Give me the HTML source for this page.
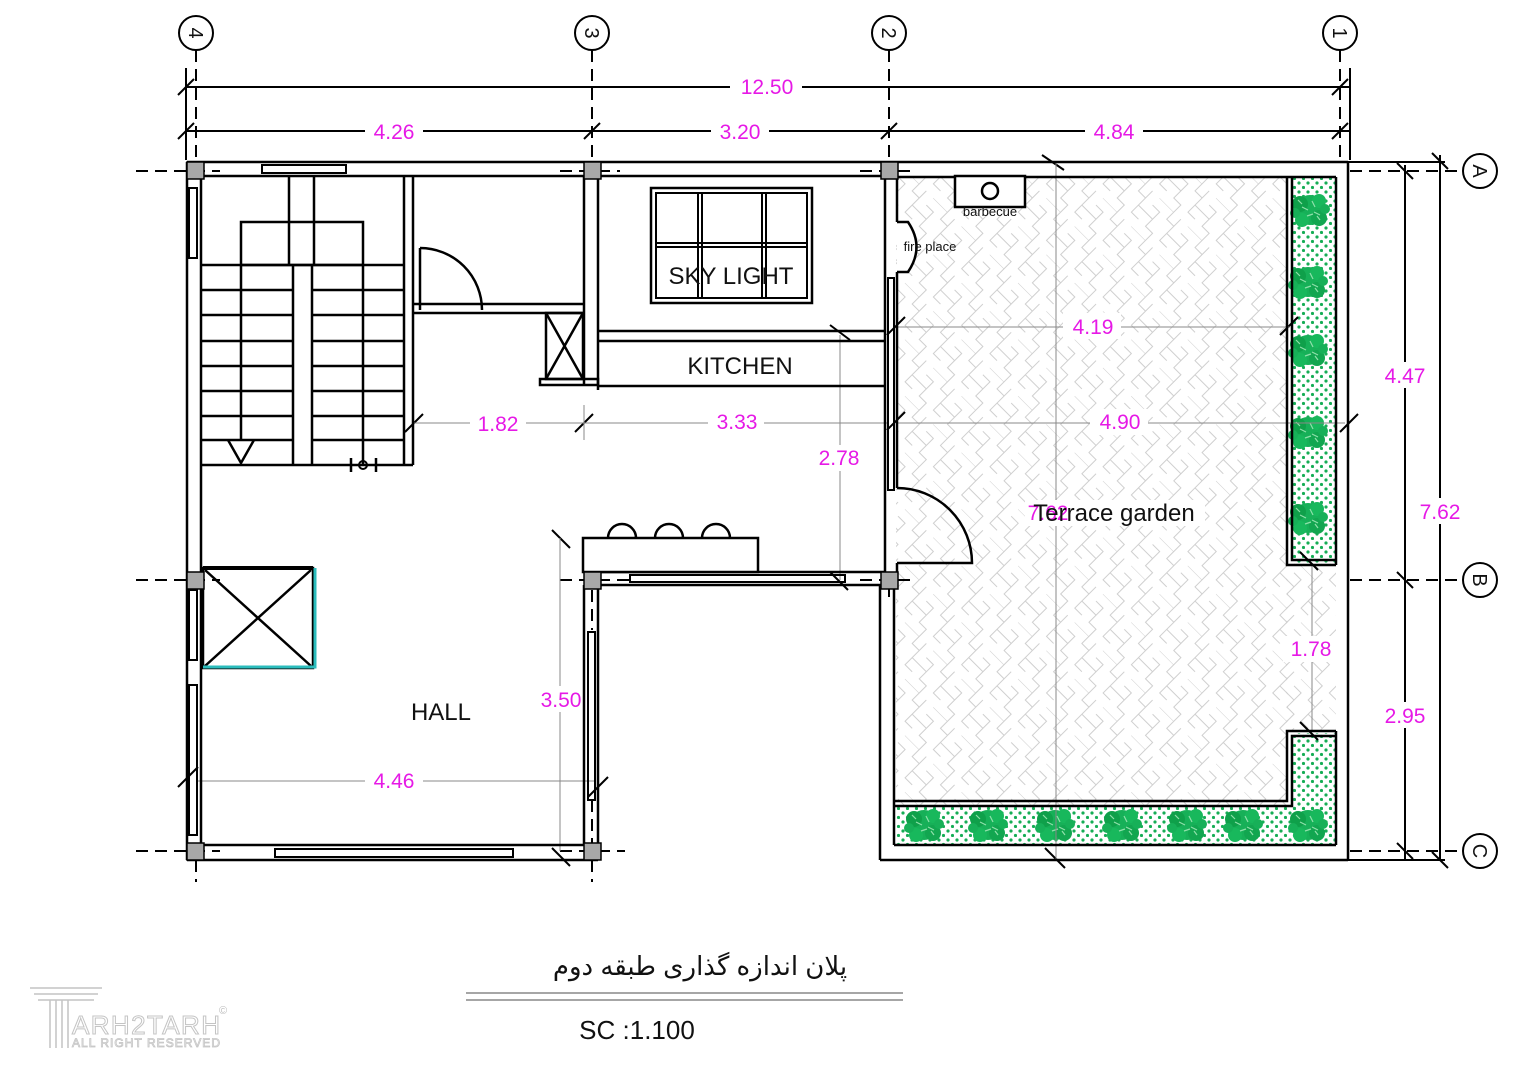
<!DOCTYPE html>
<html><head><meta charset="utf-8"><style>
html,body{margin:0;padding:0;background:#fff}
svg{display:block}
.m{fill:#e619e6;font-family:"Liberation Sans",sans-serif;font-size:21px;text-anchor:middle}
.t{fill:#111;font-family:"Liberation Sans",sans-serif;text-anchor:middle}
</style></head><body>
<svg width="1527" height="1080" viewBox="0 0 1527 1080" xmlns="http://www.w3.org/2000/svg">
<defs>
<pattern id="hb" width="40" height="40" patternUnits="userSpaceOnUse" patternTransform="rotate(45)">
<path d="M0 0H20V10H30V20H40M0 20H10V30H20V40M20 0V10M30 20V30H40M10 20V10H0M30 0V10" stroke="#cfcfcf" stroke-width="1" fill="none"/>
</pattern>
<pattern id="dots" width="9" height="9" patternUnits="userSpaceOnUse">
<circle cx="3" cy="3" r="1.6" fill="#16ad55"/><circle cx="7.5" cy="7.5" r="1.6" fill="#16ad55"/>
</pattern>
<g id="bush">
<circle r="15" fill="#17b058"/><circle cx="-10" cy="-6" r="8" fill="#0fa04a"/><circle cx="9" cy="8" r="8" fill="#12a650"/><circle cx="9" cy="-9" r="7" fill="#18b85c"/><circle cx="-8" cy="10" r="7" fill="#18b85c"/><circle cx="-15" cy="3" r="5" fill="#17b058"/><circle cx="15" cy="-1" r="5" fill="#17b058"/>
<path d="M-8 -3l6 3M2 -9l3 6M-3 6l6-2M4 2l6 3M-12 -10l4 4M10 10l-3-4" stroke="#8fe0aa" stroke-width="1.2"/>
</g>
</defs>
<rect width="1527" height="1080" fill="#fff"/>

<rect x="896" y="177" width="392" height="630" fill="url(#hb)"/>
<rect x="1286" y="566" width="50" height="165" fill="url(#hb)"/>
<rect x="1292" y="177" width="43" height="388" fill="url(#dots)"/>
<rect x="1292" y="733" width="43" height="112" fill="url(#dots)"/>
<rect x="896" y="806" width="440" height="39" fill="url(#dots)"/>
<g>
<use href="#bush" x="1310" y="210"/><use href="#bush" x="1308" y="282"/><use href="#bush" x="1308" y="350"/><use href="#bush" x="1308" y="432"/><use href="#bush" x="1308" y="518"/>
<use href="#bush" x="924" y="825"/><use href="#bush" x="988" y="825"/><use href="#bush" x="1055" y="825"/><use href="#bush" x="1122" y="825"/><use href="#bush" x="1187" y="825"/><use href="#bush" x="1243" y="825"/><use href="#bush" x="1308" y="825"/>
</g>

<g stroke="#000" stroke-width="2" stroke-dasharray="12,7" fill="none">
<line x1="196" y1="50" x2="196" y2="162"/><line x1="196" y1="860" x2="196" y2="882"/>
<line x1="592" y1="50" x2="592" y2="162"/><line x1="592" y1="860" x2="592" y2="882"/>
<line x1="592" y1="538" x2="592" y2="572"/><line x1="592" y1="590" x2="592" y2="630"/><line x1="592" y1="800" x2="592" y2="843"/>
<line x1="889" y1="50" x2="889" y2="162"/><line x1="889" y1="585" x2="889" y2="600"/>
<line x1="1340" y1="50" x2="1340" y2="162"/>
<line x1="136" y1="171" x2="220" y2="171"/><line x1="560" y1="171" x2="620" y2="171"/><line x1="860" y1="171" x2="910" y2="171"/>
<line x1="1350" y1="171" x2="1462" y2="171"/>
<line x1="136" y1="580" x2="220" y2="580"/><line x1="560" y1="580" x2="630" y2="580"/><line x1="860" y1="580" x2="910" y2="580"/>
<line x1="1350" y1="580" x2="1462" y2="580"/>
<line x1="136" y1="851" x2="220" y2="851"/><line x1="560" y1="851" x2="625" y2="851"/>
<line x1="1350" y1="851" x2="1462" y2="851"/>
</g>
<g fill="#fff" stroke="#000" stroke-width="2">
<ellipse cx="196" cy="33" rx="17" ry="17"/><ellipse cx="592" cy="33" rx="17" ry="17"/><ellipse cx="889" cy="33" rx="17" ry="17"/><ellipse cx="1340" cy="33" rx="17" ry="17"/>
<circle cx="1480" cy="171" r="17"/><circle cx="1480" cy="580" r="17"/><circle cx="1480" cy="851" r="17"/>
</g>
<g class="t" font-size="20">
<text transform="translate(196,33) rotate(90)" y="7">4</text>
<text transform="translate(592,33) rotate(90)" y="7">3</text>
<text transform="translate(889,33) rotate(90)" y="7">2</text>
<text transform="translate(1340,33) rotate(90)" y="7">1</text>
<text transform="translate(1480,171) rotate(90)" y="7">A</text>
<text transform="translate(1480,580) rotate(90)" y="7">B</text>
<text transform="translate(1480,851) rotate(90)" y="7">C</text>
</g>

<g stroke="#000" stroke-width="2" fill="none">
<line x1="186" y1="87" x2="1350" y2="87"/>
<line x1="186" y1="131" x2="1350" y2="131"/>
<line x1="186" y1="68" x2="186" y2="160"/>
<line x1="1350" y1="68" x2="1350" y2="160"/>
<line x1="1405" y1="165" x2="1405" y2="860"/>
<line x1="1440" y1="155" x2="1440" y2="860"/>
<line x1="1348" y1="162" x2="1445" y2="162"/>
<line x1="1348" y1="860" x2="1445" y2="860"/>
<path d="M178 95l16-16M178 139l16-16M584 139l16-16M881 139l16-16M1332 95l16-16M1332 139l16-16"/>
<path d="M1397 163l16 16M1432 153l16 16M1397 572l16 16M1397 843l16 16M1432 852l16 16"/>
<path d="M1042 155l22 15M1045 848l20 20M830 325l20 15M830 572l18 18M552 530l18 18M552 848l18 18M1300 722l18 18M1300 552l18 18"/>
<path d="M178 787l20-20M588 797l20-20M405 432l18-18M575 432l18-18M887 335l18-18M887 430l18-18M1280 335l18-18M1340 432l18-18"/>
</g>
<g stroke="#888" stroke-width="1" fill="none">
<line x1="196" y1="781" x2="596" y2="781"/>
<line x1="560" y1="538" x2="560" y2="851"/>
<line x1="413" y1="423" x2="889" y2="423"/>
<line x1="584" y1="405" x2="584" y2="440"/>
<line x1="897" y1="423" x2="1345" y2="423"/>
<line x1="897" y1="327" x2="1290" y2="327"/>
<line x1="840" y1="335" x2="840" y2="580"/>
<line x1="1056" y1="162" x2="1056" y2="860"/>
<line x1="1312" y1="565" x2="1312" y2="731"/>
</g>
<g class="m">
<rect x="730" y="74" width="72" height="26" fill="#fff"/><text x="767" y="94">12.50</text>
<rect x="365" y="118" width="58" height="26" fill="#fff"/><text x="394" y="139">4.26</text>
<rect x="711" y="118" width="58" height="26" fill="#fff"/><text x="740" y="139">3.20</text>
<rect x="1085" y="118" width="58" height="26" fill="#fff"/><text x="1114" y="139">4.84</text>
<rect x="1377" y="362" width="56" height="26" fill="#fff"/><text x="1405" y="383">4.47</text>
<rect x="1412" y="498" width="56" height="26" fill="#fff"/><text x="1440" y="519">7.62</text>
<rect x="1377" y="702" width="56" height="26" fill="#fff"/><text x="1405" y="723">2.95</text>
<rect x="470" y="410" width="56" height="26" fill="#fff"/><text x="498" y="431">1.82</text>
<rect x="708" y="409" width="56" height="26" fill="#fff"/><text x="737" y="429">3.33</text>
<rect x="810" y="445" width="58" height="26" fill="#fff"/><text x="839" y="465">2.78</text>
<rect x="1063" y="313" width="58" height="26" fill="#fff"/><text x="1093" y="334">4.19</text>
<rect x="1090" y="409" width="58" height="26" fill="#fff"/><text x="1120" y="429">4.90</text>
<rect x="1283" y="636" width="56" height="26" fill="#fff"/><text x="1311" y="656">1.78</text>
<rect x="365" y="768" width="58" height="26" fill="#fff"/><text x="394" y="788">4.46</text>
<rect x="533" y="686" width="58" height="26" fill="#fff"/><text x="561" y="707">3.50</text>
<rect x="1025" y="500" width="180" height="26" fill="#fff"/>
<text x="1048" y="520">7.62</text>
</g>

<g stroke="#000" stroke-width="2.5" fill="none">
<line x1="187" y1="162" x2="1348" y2="162"/>
<line x1="201" y1="176" x2="584" y2="176"/>
<line x1="598" y1="176" x2="885" y2="176"/>
<line x1="897" y1="177" x2="1336" y2="177"/>
<rect x="262" y="165" width="84" height="8" stroke-width="2"/>
<line x1="187" y1="162" x2="187" y2="860"/>
<line x1="201" y1="176" x2="201" y2="845"/>
<rect x="189" y="188" width="8" height="70" stroke-width="2"/>
<rect x="189" y="590" width="8" height="70" stroke-width="2"/>
<rect x="189" y="685" width="8" height="150" stroke-width="2"/>
<line x1="187" y1="860" x2="598" y2="860"/>
<line x1="201" y1="845" x2="584" y2="845"/>
<rect x="275" y="849" width="238" height="8" stroke-width="2"/>
<line x1="584" y1="585" x2="584" y2="845"/>
<line x1="598" y1="585" x2="598" y2="860"/>
<rect x="588" y="632" width="7" height="168" stroke-width="2"/>
<line x1="598" y1="572" x2="885" y2="572"/>
<line x1="598" y1="585" x2="897" y2="585"/>
<rect x="630" y="575" width="215" height="7" stroke-width="2"/>
<line x1="584" y1="176" x2="584" y2="385"/>
<line x1="598" y1="176" x2="598" y2="390"/>
<line x1="885" y1="176" x2="885" y2="572"/>
<line x1="897" y1="177" x2="897" y2="222"/>
<line x1="897" y1="272" x2="897" y2="488"/>
<rect x="888" y="278" width="6" height="212" stroke-width="2"/>
<line x1="897" y1="563" x2="897" y2="585"/>
<line x1="880" y1="585" x2="880" y2="860"/>
<line x1="880" y1="860" x2="1348" y2="860"/>
<line x1="1348" y1="162" x2="1348" y2="860"/>
<line x1="894" y1="585" x2="894" y2="845"/>
<line x1="894" y1="845" x2="1336" y2="845"/>
<line x1="1336" y1="177" x2="1336" y2="565"/>
<line x1="1336" y1="731" x2="1336" y2="845"/>
<path d="M1287 177V565H1336M1292 177V560H1336"/>
<path d="M894 801H1287V731H1336M894 806H1292V736H1336"/>
<line x1="404" y1="176" x2="404" y2="465"/>
<line x1="413" y1="176" x2="413" y2="465"/>
<line x1="201" y1="465" x2="413" y2="465"/>
<line x1="289" y1="176" x2="289" y2="265"/>
<line x1="314" y1="176" x2="314" y2="265"/>
<rect x="241" y="222" width="122" height="43"/>
<line x1="201" y1="265" x2="404" y2="265"/>
<line x1="293" y1="265" x2="293" y2="465"/>
<line x1="312" y1="265" x2="312" y2="465"/>
<line x1="241" y1="265" x2="241" y2="440"/>
<line x1="363" y1="265" x2="363" y2="465"/>
<path d="M201 290H293M312 290H404M201 315H293M312 315H404M201 341H293M312 341H404M201 366H293M312 366H404M201 391H293M312 391H404M201 416H293M312 416H404M201 440H293M312 440H404"/>
<path d="M228 440L241 463L254 440"/>
<path d="M351 458V472M376 458V472"/>
<circle cx="363" cy="465" r="4" stroke-width="2"/>
<line x1="413" y1="304" x2="584" y2="304"/>
<line x1="413" y1="313" x2="584" y2="313"/>
<line x1="420" y1="248" x2="420" y2="310"/>
<path d="M420 248A62 62 0 0 1 482 310"/>
<rect x="546" y="313" width="37" height="66"/>
<path d="M546 313L583 379M583 313L546 379"/>
<path d="M540 379H598V385H540Z"/>
<line x1="598" y1="331" x2="885" y2="331"/>
<line x1="598" y1="341" x2="885" y2="341"/>
<line x1="598" y1="386" x2="885" y2="386"/>
<rect x="651" y="188" width="161" height="115"/>
<rect x="656" y="193" width="151" height="105" stroke-width="2"/>
<path d="M698 193V298M702 193V298M762 193V298M766 193V298M656 243H807M656 247H807" stroke-width="2"/>
<rect x="583" y="538" width="175" height="34" fill="#fff"/>
<path d="M608 538A14 14 0 0 1 636 538M655 538A14 14 0 0 1 683 538M702 538A14 14 0 0 1 730 538"/>
<path d="M897 488A75 75 0 0 1 972 563H897"/>
<path d="M897 222H908Q925 247 908 272H897" fill="#fff"/>
<rect x="955" y="176" width="70" height="31" fill="#fff"/>
<circle cx="990" cy="191" r="8"/>
<rect x="203" y="568" width="110" height="100"/>
<path d="M205 570L311 666M311 570L205 666"/>
</g>
<path d="M203 667H315V568" stroke="#2bbcbc" stroke-width="3" fill="none"/>
<line x1="203" y1="568" x2="313" y2="568" stroke="#000" stroke-width="4"/>

<g fill="#a8a8a8" stroke="#000" stroke-width="1.5">
<rect x="187" y="162" width="17" height="17"/><rect x="584" y="162" width="17" height="17"/><rect x="881" y="162" width="17" height="17"/>
<rect x="187" y="572" width="17" height="17"/><rect x="584" y="572" width="17" height="17"/><rect x="881" y="572" width="17" height="17"/>
<rect x="187" y="843" width="17" height="17"/><rect x="584" y="843" width="17" height="17"/>
</g>

<g class="t">
<text x="731" y="284" font-size="24">SKY LIGHT</text>
<text x="740" y="374" font-size="24">KITCHEN</text>
<text x="441" y="720" font-size="24">HALL</text>
<text x="1114" y="521" font-size="24">Terrace garden</text>
<text x="990" y="216" font-size="13">barbecue</text>
<text x="930" y="251" font-size="13">fire place</text>
<text x="700" y="975" font-size="26" style="font-family:'Liberation Sans','Noto Sans CJK SC','DejaVu Sans',sans-serif">پلان اندازه گذاری طبقه دوم</text>
<text x="637" y="1039" font-size="26">SC :1.100</text>
</g>
<line x1="466" y1="993" x2="903" y2="993" stroke="#888" stroke-width="1.5"/>
<line x1="466" y1="1000" x2="903" y2="1000" stroke="#888" stroke-width="1.5"/>

<g fill="none" stroke="#c4c4c4" stroke-width="1.5">
<path d="M30 988H102M34 994H98M38 1000H94"/>
<path d="M50 1000V1048M56 1000V1048M62 1000V1048M68 1000V1048"/>
</g>
<text x="72" y="1034" font-family="Liberation Sans,sans-serif" font-size="26" fill="none" stroke="#c4c4c4" stroke-width="1" textLength="148">ARH2TARH</text>
<text x="72" y="1047" font-family="Liberation Sans,sans-serif" font-size="12" fill="none" stroke="#c4c4c4" stroke-width="0.8" textLength="148">ALL RIGHT RESERVED</text>
<text x="219" y="1014" font-family="Liberation Sans,sans-serif" font-size="11" fill="#bbb">©</text>
</svg>
</body></html>
